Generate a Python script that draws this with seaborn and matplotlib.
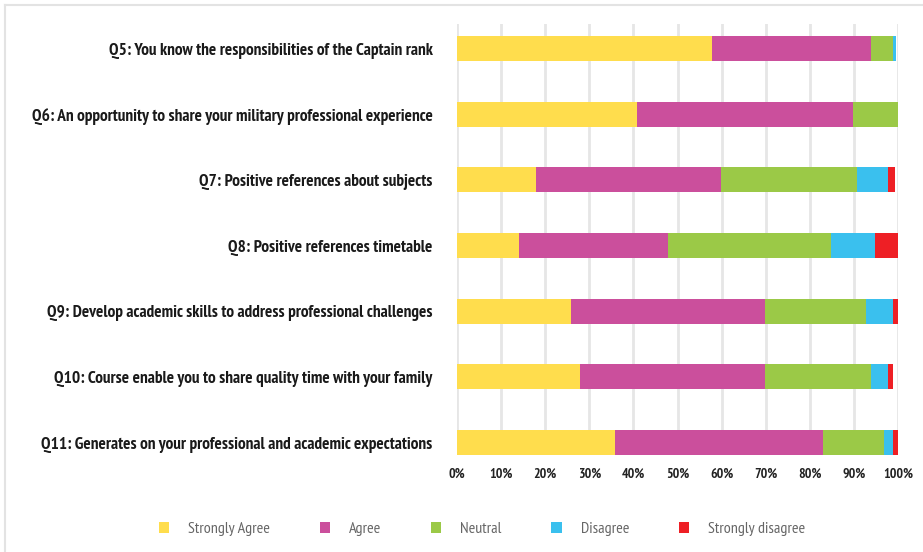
import seaborn as sns
import matplotlib.pyplot as plt
import pandas as pd
import numpy as np
from matplotlib.patches import Patch
from matplotlib.lines import Line2D
from matplotlib import font_manager

questions = [
    'Q5: You know the responsibilities of the Captain rank',
    'Q6: An opportunity to share your military professional experience',
    'Q7: Positive references about subjects',
    'Q8: Positive references timetable',
    'Q9: Develop academic skills to address professional challenges',
    'Q10: Course enable you to share quality time with your family',
    'Q11: Generates on your professional and academic expectations',
]
levels = ['Strongly Agree', 'Agree', 'Neutral', 'Disagree', 'Strongly disagree']
strongly_agree = [57.8, 40.8, 17.9, 14.0, 25.8, 27.8, 35.8]
agree = [36.1, 49.0, 41.9, 33.8, 44.0, 42.0, 47.2]
neutral = [5.0, 10.2, 31.0, 37.0, 22.9, 24.1, 13.8]
disagree = [0.6, 0.0, 6.9, 10.0, 6.1, 3.8, 2.1]
strongly_disagree = [0.0, 0.0, 1.6, 5.2, 1.4, 1.2, 1.1]
colors = ['#FFDD4D', '#CB4F9C', '#9BC947', '#3AC0EE', '#EE1F25']

# condensed sans close to Myriad Condensed, whichever is installed
installed = {f.name for f in font_manager.fontManager.ttflist}
prefs = ['Myriad Pro', 'PT Sans Narrow', 'Roboto Condensed', 'Fira Sans Condensed',
         'Open Sans Condensed', 'Archivo Narrow', 'Liberation Sans Narrow']
narrow = [f for f in prefs if f in installed]
plt.rcParams['font.family'] = narrow + ['DejaVu Sans']

df = pd.DataFrame({'question': questions, 'Strongly Agree': strongly_agree, 'Agree': agree,
                   'Neutral': neutral, 'Disagree': disagree, 'Strongly disagree': strongly_disagree})
cum = df[levels].cumsum(axis=1)

fig = plt.figure(figsize=(9.23, 5.52), dpi=100)
ax = fig.add_axes([457 / 923, 1 - 455 / 552, 441 / 923, 431 / 552])

# stacked bars: draw cumulative totals from the last level backwards
for lvl, c in reversed(list(zip(levels, colors))):
    sns.barplot(x=cum[lvl], y=df['question'], color=c, width=0.38, ax=ax,
                saturation=1, edgecolor='none', zorder=3)

ax.set_xlim(0, 100)
ax.set_ylim(6.19, -0.375)
ax.set_xticks(np.arange(0, 101, 10))
ax.set_xticklabels([f'{t}%' for t in range(0, 101, 10)], fontsize=10, fontweight='bold', color='#222222')
ax.tick_params(axis='x', length=0, pad=9)
ax.tick_params(axis='y', length=0, pad=17.5)
for lab in ax.get_yticklabels():
    lab.set_fontsize(12.4)
    lab.set_fontweight('bold')
    lab.set_color('#1a1a1a')
ax.set_xlabel('')
ax.set_ylabel('')
ax.grid(axis='x', color='#e6e6e6', linewidth=2, zorder=0)
ax.set_axisbelow(True)
for s in ax.spines.values():
    s.set_visible(False)

handles = [Patch(facecolor=c, edgecolor='none') for c in colors]
fig.legend(handles, levels, loc='center', bbox_to_anchor=(482 / 923, 1 - 529 / 552), ncol=5,
           frameon=False, fontsize=11.5, labelcolor='#666666', handlelength=0.65, handleheight=0.65,
           handletextpad=1.2, columnspacing=3.1)

# light outer frame
fig.add_artist(Line2D([5 / 923, 5 / 923], [0, 1 - 5 / 552], color='#e3e3e3', linewidth=1.5))
fig.add_artist(Line2D([5 / 923, 1], [1 - 5 / 552, 1 - 5 / 552], color='#e3e3e3', linewidth=1.5))

fig.savefig('out.png', dpi=100)
